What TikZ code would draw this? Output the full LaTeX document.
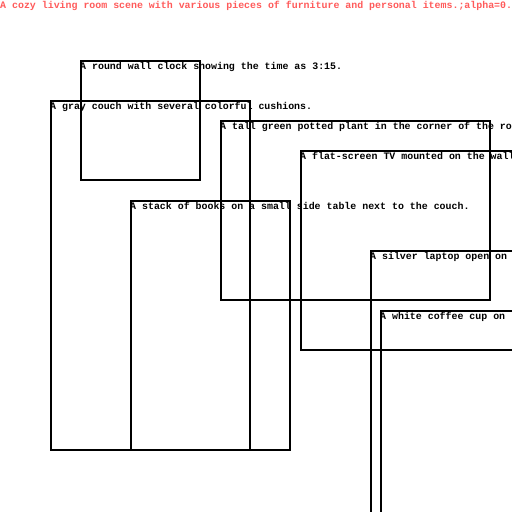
\documentclass[tikz,border=0pt]{standalone}
\usepackage{fontspec}
\setmonofont{Liberation Mono}
\definecolor{titlered}{RGB}{255,90,90}
\tikzset{
  box/.style={draw=black, line width=2pt, rectangle, inner sep=0pt, outer sep=0pt, anchor=north west},
  lbl/.style={font=\ttfamily\bfseries\fontsize{9.92pt}{10pt}\selectfont, inner sep=0pt, anchor=base west, text=black},
  ttl/.style={font=\ttfamily\bfseries\fontsize{9.92pt}{10pt}\selectfont, inner sep=0pt, anchor=base west, text=titlered}
}
\begin{document}
\begin{tikzpicture}[x=1pt,y=-1pt]
\useasboundingbox (0,0) rectangle (512,512);
\fill[white] (0,0) rectangle (512,512);
\clip (0,0) rectangle (512,512);
% boxes
\node[box, minimum width=119pt, minimum height=119pt] (clock) at (81,61) {};
\node[box, minimum width=199pt, minimum height=349pt] (couch) at (51,101) {};
\node[box, minimum width=269pt, minimum height=179pt] (plant) at (221,121) {};
\node[box, minimum width=300pt, minimum height=199pt] (tv) at (301,151) {};
\node[box, minimum width=159pt, minimum height=249pt] (books) at (131,201) {};
\node[box, minimum width=200pt, minimum height=300pt] (laptop) at (371,251) {};
\node[box, minimum width=200pt, minimum height=300pt] (cup) at (381,311) {};
% labels
\node[ttl] (title) at (0,8.5) {A cozy living room scene with various pieces of furniture and personal items.;alpha=0.};
\node[lbl] (lclock) at ([shift={(-1pt,-8pt)}]clock.north west) {A round wall clock showing the time as 3:15.};
\node[lbl] (lcouch) at ([shift={(-1pt,-8pt)}]couch.north west) {A gray couch with several colorful cushions.};
\node[lbl] (lplant) at ([shift={(-1pt,-8pt)}]plant.north west) {A tall green potted plant in the corner of the ro};
\node[lbl] (ltv) at ([shift={(-1pt,-8pt)}]tv.north west) {A flat-screen TV mounted on the wall};
\node[lbl] (lbooks) at ([shift={(-1pt,-8pt)}]books.north west) {A stack of books on a small side table next to the couch.};
\node[lbl] (llaptop) at ([shift={(-1pt,-8pt)}]laptop.north west) {A silver laptop open on};
\node[lbl] (lcup) at ([shift={(-1pt,-8pt)}]cup.north west) {A white coffee cup on};
\end{tikzpicture}
\end{document}
